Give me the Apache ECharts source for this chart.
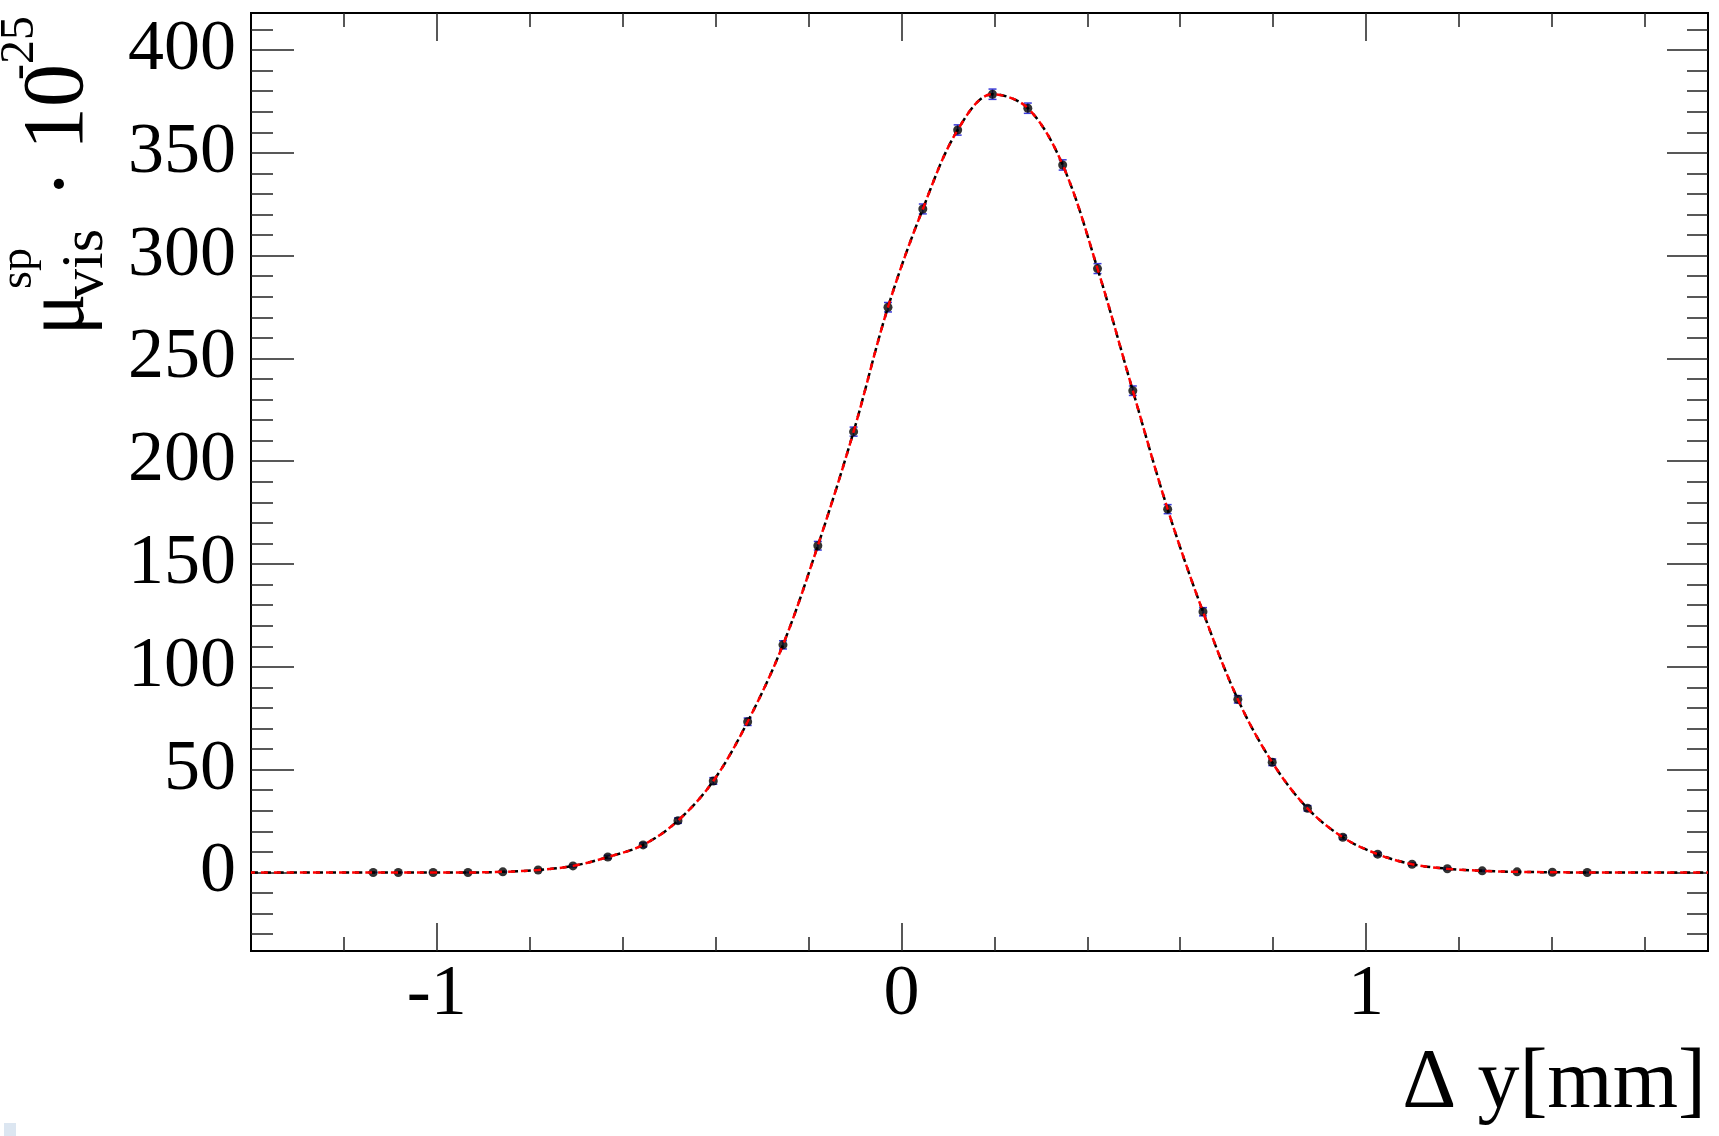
<!DOCTYPE html>
<html><head><meta charset="utf-8">
<script src="https://cdn.jsdelivr.net/npm/echarts@6/dist/echarts.min.js"></script>
<style>html,body{margin:0;padding:0;background:#fff}#c{width:1719px;height:1136px}</style>
</head><body><div id="c"></div>
<script>
// ---- data ----
const dataX = [-1.137, -1.083, -1.008, -0.933, -0.858, -0.782, -0.707, -0.632, -0.556, -0.481, -0.405, -0.331,
  -0.255, -0.180, -0.103, -0.029, 0.046, 0.121, 0.196, 0.272, 0.347, 0.422, 0.498, 0.573,
  0.649, 0.724, 0.798, 0.874, 0.950, 1.025, 1.099, 1.175, 1.250, 1.325, 1.401, 1.476];
const dataY = [0.0, 0.0, 0.0, 0.0, 0.3, 1.2, 3.2, 7.5, 13.4, 25.2, 44.5, 73.3,
  110.7, 158.9, 214.4, 274.9, 322.7, 361.1, 378.5, 371.7, 344.1, 293.7, 234.3, 176.7,
  126.8, 84.2, 53.6, 31.2, 17.1, 8.9, 4.0, 1.8, 0.8, 0.3, 0.1, 0.0];
const dataErr = [0.1, 0.1, 0.1, 0.1, 0.2, 0.3, 0.5, 0.8, 1.0, 1.3, 1.6, 1.8,
  2.0, 2.1, 2.2, 2.3, 2.4, 2.5, 2.5, 2.5, 2.5, 2.4, 2.3, 2.2,
  2.0, 1.8, 1.6, 1.3, 1.0, 0.8, 0.6, 0.4, 0.3, 0.2, 0.1, 0.1];
const curveX = [-1.4, -1.137, -1.083, -1.008, -0.933, -0.858, -0.782, -0.707, -0.632, -0.556, -0.481, -0.405, -0.331,
  -0.255, -0.180, -0.103, -0.029, 0.046, 0.121, 0.196, 0.272, 0.347, 0.422, 0.498, 0.573,
  0.649, 0.724, 0.798, 0.874, 0.950, 1.025, 1.099, 1.175, 1.250, 1.325, 1.401, 1.476, 1.736];
const curveY = [0.0, 0.0, 0.0, 0.0, 0.0, 0.3, 1.2, 3.2, 7.5, 13.4, 25.2, 44.5, 73.3,
  110.7, 158.9, 214.4, 274.9, 322.7, 361.1, 378.5, 371.7, 344.1, 293.7, 234.3, 176.7,
  126.8, 84.2, 53.6, 31.2, 17.1, 8.9, 4.0, 1.8, 0.8, 0.3, 0.1, 0.0, 0.0];
const xTickValues = [-1, 0, 1];
const yTickValues = [0, 50, 100, 150, 200, 250, 300, 350, 400];
const xRange = [-1.4, 1.736];
const yRange = [-38.2, 418];
const xTitle = 'Δ y[mm]';
const yTitleParts = ['μ', 'sp', 'vis', '·', '10', '-25'];

// ---- chart ----
const serif = "'Liberation Serif', 'Times New Roman', serif";
const tickColor = '#222';

function xAxisDef(pos, labels) {
  return {
    type: 'value', position: pos, min: xRange[0], max: xRange[1],
    splitNumber: 3, minInterval: 1, maxInterval: 1,
    axisLine: { show: false, onZero: false }, splitLine: { show: false },
    axisTick: { show: true, inside: true, length: 28, customValues: xTickValues,
      lineStyle: { color: tickColor, width: 1.5 } },
    minorTick: { show: true, splitNumber: 5, length: 14, lineStyle: { color: tickColor, width: 1.5 } },
    axisLabel: { show: labels, customValues: xTickValues, margin: 8, fontFamily: serif,
      fontSize: 72, color: '#000', formatter: v => String(v) }
  };
}
function yAxisDef(pos, labels) {
  return {
    type: 'value', position: pos, min: yRange[0], max: yRange[1],
    splitNumber: 9, minInterval: 50, maxInterval: 50,
    axisLine: { show: false, onZero: false }, splitLine: { show: false },
    axisTick: { show: true, inside: true, length: pos === 'left' ? 43 : 41, customValues: yTickValues,
      lineStyle: { color: tickColor, width: 1.5 } },
    minorTick: { show: true, splitNumber: 5, length: pos === 'left' ? 22 : 21,
      lineStyle: { color: tickColor, width: 1.5 } },
    axisLabel: { show: labels, customValues: yTickValues, margin: 15, fontFamily: serif,
      fontSize: 72, color: '#000', padding: [0, 0, 16, 0], formatter: v => String(v) }
  };
}

function errRender(params, api) {
  const x = api.value(0), y = api.value(1), e = api.value(2);
  const t = api.coord([x, y + e]);
  const b = api.coord([x, y - e]);
  const hw = 4;
  const st = { stroke: '#3b3bd9', lineWidth: 1.5 };
  return { type: 'group', children: [
    { type: 'line', shape: { x1: t[0], y1: t[1], x2: b[0], y2: b[1] }, style: st },
    { type: 'line', shape: { x1: t[0] - hw, y1: t[1], x2: t[0] + hw, y2: t[1] }, style: st },
    { type: 'line', shape: { x1: b[0] - hw, y1: b[1], x2: b[0] + hw, y2: b[1] }, style: st }
  ]};
}

// text in the rotated title group: x = along the text, baseline = perpendicular position
function txt(text, size, x, baseline, scaleX, align) {
  return { type: 'text', x: x, y: baseline - 0.34 * size, scaleX: scaleX,
    style: { text: text, font: size + 'px ' + serif, fill: '#000',
      textAlign: align || 'left', verticalAlign: 'middle', textVerticalAlign: 'middle' } };
}

const chart = echarts.init(document.getElementById('c'), null, { renderer: 'canvas' });
chart.setOption({
  animation: false,
  backgroundColor: '#fff',
  grid: { left: 251, right: 11, top: 13, bottom: 185, show: true, borderColor: '#000', borderWidth: 2 },
  xAxis: [xAxisDef('bottom', true), xAxisDef('top', false)],
  yAxis: [yAxisDef('left', true), yAxisDef('right', false)],
  series: [
    { type: 'custom', renderItem: errRender, xAxisIndex: 0, yAxisIndex: 0, z: 2, silent: true,
      data: dataX.map((x, i) => [x, dataY[i], dataErr[i]]) },
    { type: 'scatter', xAxisIndex: 0, yAxisIndex: 0, z: 3, symbol: 'circle', symbolSize: 9,
      itemStyle: { color: '#000' }, data: dataX.map((x, i) => [x, dataY[i]]) },
    { type: 'line', xAxisIndex: 0, yAxisIndex: 0, z: 4, smooth: 0.35, showSymbol: false,
      lineStyle: { color: '#000', width: 2.5, type: [7, 6], dashOffset: 0 },
      data: curveX.map((x, i) => [x, curveY[i]]) },
    { type: 'line', xAxisIndex: 0, yAxisIndex: 0, z: 5, smooth: 0.35, showSymbol: false,
      lineStyle: { color: '#ff0000', width: 2.5, type: [7, 6], dashOffset: 3 },
      data: curveX.map((x, i) => [x, curveY[i]]) }
  ],
  graphic: [
    { type: 'group', x: 0, y: 335, rotation: Math.PI / 2, children: [
      txt(yTitleParts[0], 86, 0, 90, 0.9),
      txt(yTitleParts[1], 46, 46, 35, 1.0),
      txt(yTitleParts[2], 60, 36, 107, 1.0),
      txt(yTitleParts[3], 86, 151, 95, 1.0, 'center'),
      txt(yTitleParts[4], 86, 185, 89, 1.0),
      txt(yTitleParts[5], 48, 255, 37, 1.0)
    ]},
    { type: 'text', x: 1706, y: 1113 - 0.34 * 84,
      style: { text: xTitle, font: '84px ' + serif, fill: '#000', textAlign: 'right',
        verticalAlign: 'middle', textVerticalAlign: 'middle' } },
    { type: 'rect', shape: { x: 4, y: 1123, width: 12, height: 13 }, style: { fill: '#dce6f1' } }
  ]
});
</script></body></html>
